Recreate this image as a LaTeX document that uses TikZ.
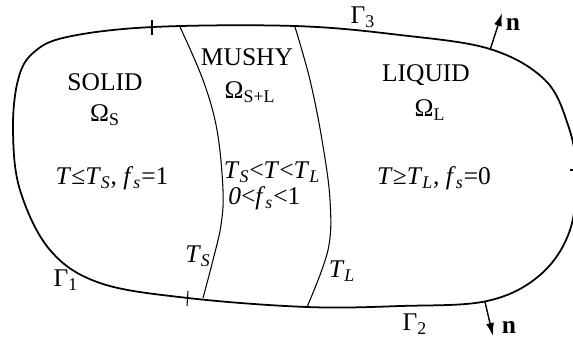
\documentclass[tikz,border=0pt]{standalone}
\usepackage{fontspec}
\setmainfont{Liberation Serif}
\usetikzlibrary{arrows.meta}
\tikzset{lbl/.style = {inner sep = 0pt, font = \fontsize{14.5}{17}\selectfont}}
\tikzset{wall/.style = {line width = 1pt}}
\tikzset{front/.style = {line width = 0.6pt}}
\tikzset{normal/.style = {line width = 0.8pt, -{Latex[length = 2.6mm, width = 1.6mm]}}}
\newcommand{\itl}[1]{\textit{#1}}

\begin{document}
\begin{tikzpicture}[x = 0.02cm, y = -0.02cm]
	\useasboundingbox (0,0) rectangle (573,343);

	% outer boundary
	\draw[wall] plot[smooth cycle, tension = 0.6] coordinates {
		(67,37) (153,27) (295,26) (400,35) (490,49) (545,80) (568,125) (576,170)
		(570,230) (540,275) (487,301) (400,306) (307,307) (188,298) (100,283)
		(50,250) (20,190) (13,130) (18,80) (33,53)};

	% solidus and liquidus
	\draw[front] plot[smooth, tension = 0.6] coordinates {
		(180,27) (203,80) (217,130) (223,190) (221,225) (213,260) (203,298)};
	\draw[front] plot[smooth, tension = 0.6] coordinates {
		(295,27) (310,80) (322,140) (330,200) (328,250) (307,307)};

	% ticks
	\draw[front] (152,20) -- (152,35);
	\draw[front] (188,291) -- (187,306);
	\draw[front] (570,170) -- (576,170);

	\node[lbl] (solid) at (105,82) {SOLID};
	\node[lbl] (omS) at (105,115) {Ω\textsubscript{S}};
	\node[lbl] (mushy) at (247,57) {MUSHY};
	\node[lbl] (omSL) at (250,92) {Ω\textsubscript{S+L}};
	\node[lbl] (liquid) at (426,75) {LIQUID};
	\node[lbl] (omL) at (430,110) {Ω\textsubscript{L}};

	\node[lbl] (solideq) at (112,178) {\itl{T}≤\itl{T}\textsubscript{\itl{S}}, \itl{f}\textsubscript{\itl{s}}=1};
	\node[lbl] (mushyeq) at (272,172) {\itl{T}\textsubscript{\itl{S}}<\itl{T}<\itl{T}\textsubscript{\itl{L}}};
	\node[lbl, anchor = west] (fseq) at (228,198) {\itl{0}<\itl{f}\textsubscript{\itl{s}}<1};
	\node[lbl] (liquideq) at (434,178) {\itl{T}≥\itl{T}\textsubscript{\itl{L}}, \itl{f}\textsubscript{\itl{s}}=0};

	\node[lbl] (TS) at (198,256) {\itl{T}\textsubscript{\itl{S}}};
	\node[lbl] (TL) at (342,271) {\itl{T}\textsubscript{\itl{L}}};

	\node[lbl] (g1) at (66,280) {Γ\textsubscript{1}};
	\node[lbl] (g2) at (415,324) {Γ\textsubscript{2}};
	\node[lbl] (g3) at (363,17) {Γ\textsubscript{3}};

	\coordinate (n3base) at (490,50);
	\coordinate (n3tip) at (502,13);
	\node[lbl] (n3) at (513,24) {\textbf{n}};
	\draw[normal] (n3base) -- (n3tip);

	\coordinate (n2base) at (485,302);
	\coordinate (n2tip) at (493,336);
	\node[lbl] (n2) at (509,327) {\textbf{n}};
	\draw[normal] (n2base) -- (n2tip);
\end{tikzpicture}
\end{document}
